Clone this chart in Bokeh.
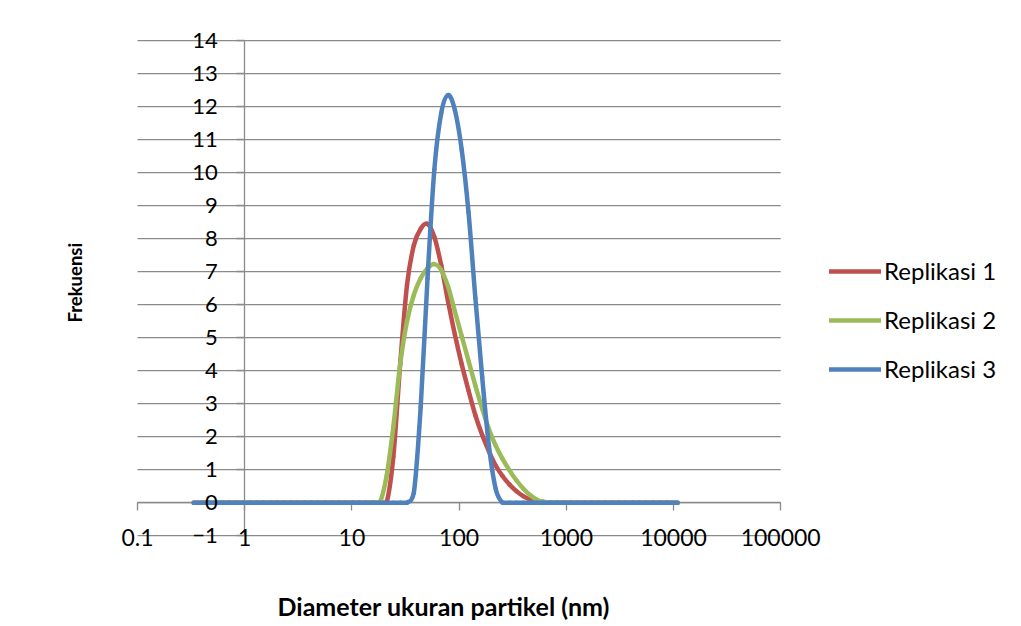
import math
from bokeh.plotting import figure
from bokeh.models import (Range1d, LogAxis, LinearAxis, FixedTicker, Grid,
                          Legend, LegendItem, Title)
from bokeh.embed import file_html
from bokeh.resources import INLINE

# ---------------- data ----------------
diameter_nm = [0.334, 0.4632, 0.5365, 0.6213, 0.7195, 0.8332, 0.9649, 1.117, 1.294, 1.499,
               1.736, 2.010, 2.328, 2.696, 3.122, 3.615, 4.187, 4.849, 5.615, 6.503,
               7.531, 8.721, 10.10, 11.70, 13.54, 15.69, 18.17, 21.04, 24.36, 28.21,
               32.67, 37.84, 43.82, 50.75, 58.77, 68.06, 78.82, 91.28, 105.7, 122.4,
               141.8, 164.2, 190.1, 220.2, 255.0, 295.3, 342.0, 396.1, 458.7, 531.2,
               615.1, 712.4, 825.0, 955.4, 1106, 1281, 1484, 1718, 1990, 2305,
               2669, 3091, 3580, 4145, 4801, 5560, 6439, 7456, 8635, 10940]

replikasi_1 = [0] * 28 + [1.4, 4.2, 6.6, 7.8, 8.3, 8.45, 8.05, 7.2, 6.1, 5.1,
                          4.2, 3.4, 2.65, 2.05, 1.55, 1.12, 0.8, 0.55, 0.35, 0.2,
                          0.1, 0.05, 0.02] + [0] * 19
replikasi_2 = [0] * 27 + [0.8, 2.3, 4.2, 5.5, 6.3, 6.8, 7.1, 7.23, 7.05, 6.55,
                          5.8, 5.05, 4.3, 3.55, 2.85, 2.22, 1.72, 1.32, 0.98, 0.68,
                          0.43, 0.23, 0.09, 0.02] + [0] * 19
replikasi_3 = [0] * 31 + [0.3, 2.9, 6.8, 10.1, 11.8, 12.35, 11.9, 10.7, 8.8, 6.2,
                          3.8, 1.7, 0.4] + [0] * 26

series_names = ["Replikasi 1", "Replikasi 2", "Replikasi 3"]
series_colors = ["#C0504D", "#9BBB59", "#4F81BD"]

x_ticks = [0.1, 1, 10, 100, 1000, 10000, 100000]
x_tick_labels = ["0.1", "1", "10", "100", "1000", "10000", "100000"]
y_ticks = list(range(-1, 15))

x_title = "Diameter ukuran partikel (nm)"
y_title = "Frekuensi"

# ---------------- figure ----------------
FONT = "Lato"
GRAY = "#8a8a8a"

p = figure(width=1013, height=622, x_axis_type="log",
           x_range=Range1d(10 ** -1.2519, 10 ** 7.1436), y_range=Range1d(-2.6, 14.4),
           x_axis_location=None, y_axis_location=None,
           output_backend="svg", toolbar_location=None,
           min_border_left=110, min_border_right=3,
           min_border_top=27, min_border_bottom=34)
p.outline_line_color = None
p.background_fill_color = "white"
p.border_fill_color = "white"
p.center = [c for c in p.center if not isinstance(c, Grid)]

# horizontal gridlines between the first and last x tick
p.segment(x0=[x_ticks[0]] * len(y_ticks), x1=[x_ticks[-1]] * len(y_ticks),
          y0=y_ticks, y1=y_ticks, line_color=GRAY, line_width=1.3)


def smooth_segments(xs, ys):
    """Catmull-Rom style smoothing (like Excel's smoothed line), in log-x space."""
    u = [math.log10(v) for v in xs]
    n = len(u)
    out = {k: [] for k in ("x0", "y0", "x1", "y1", "cx0", "cy0", "cx1", "cy1")}
    for i in range(n - 1):
        a = max(i - 1, 0)
        b = min(i + 2, n - 1)
        c0u = u[i] + (u[i + 1] - u[a]) / 6.0
        c0y = ys[i] + (ys[i + 1] - ys[a]) / 6.0
        c1u = u[i + 1] - (u[b] - u[i]) / 6.0
        c1y = ys[i + 1] - (ys[b] - ys[i]) / 6.0
        if ys[i] >= 0 and ys[i + 1] >= 0:
            c0y = max(c0y, 0.0)
            c1y = max(c1y, 0.0)
        out["x0"].append(xs[i]); out["y0"].append(ys[i])
        out["x1"].append(xs[i + 1]); out["y1"].append(ys[i + 1])
        out["cx0"].append(10 ** c0u); out["cy0"].append(c0y)
        out["cx1"].append(10 ** c1u); out["cy1"].append(c1y)
    return out


# axis line + ticks (drawn beneath the curves)
xax = LogAxis(fixed_location=0, bounds=(x_ticks[0], x_ticks[-1]),
              ticker=FixedTicker(ticks=x_ticks),
              axis_line_color=GRAY, axis_line_width=1.3,
              major_tick_line_color=GRAY, major_tick_line_width=1.3,
              major_tick_out=8, major_tick_in=0, minor_tick_out=0, minor_tick_in=0,
              major_label_text_color=None, major_label_text_font_size="1px")
xax.level = "underlay"
p.add_layout(xax, "below")

yax = LinearAxis(fixed_location=1, bounds=(y_ticks[0], y_ticks[-1]),
                 ticker=FixedTicker(ticks=y_ticks),
                 axis_line_color=GRAY, axis_line_width=1.3,
                 major_tick_line_color=GRAY, major_tick_line_width=1.3,
                 major_tick_out=8, major_tick_in=0, minor_tick_out=0, minor_tick_in=0,
                 major_label_text_color=None, major_label_text_font_size="1px")
yax.level = "underlay"
p.add_layout(yax, "left")

# curves
renderers = []
for vals, col in zip([replikasi_1, replikasi_2, replikasi_3], series_colors):
    seg = smooth_segments(diameter_nm, vals)
    r = p.bezier(source=seg, x0="x0", y0="y0", x1="x1", y1="y1",
                 cx0="cx0", cy0="cy0", cx1="cx1", cy1="cy1",
                 line_color=col, line_width=4.5, line_cap="round")
    renderers.append(r)

# tick labels
xlab = LogAxis(fixed_location=-1, bounds=(x_ticks[0], x_ticks[-1]),
               ticker=FixedTicker(ticks=x_ticks),
               major_label_overrides={t: l for t, l in zip(x_ticks, x_tick_labels)},
               axis_line_color=None, major_tick_out=0, major_tick_in=0,
               minor_tick_out=0, minor_tick_in=0, major_label_standoff=-7,
               major_label_text_font=FONT, major_label_text_font_size="23px",
               major_label_text_color="black")
p.add_layout(xlab, "below")

ylab = LinearAxis(fixed_location=1, bounds=(y_ticks[0], y_ticks[-1]),
                  ticker=FixedTicker(ticks=y_ticks),
                  axis_line_color=None, major_tick_out=0, major_tick_in=0,
                  minor_tick_out=0, minor_tick_in=0, major_label_standoff=27,
                  major_label_text_font=FONT, major_label_text_font_size="22px",
                  major_label_text_color="black")
p.add_layout(ylab, "left")

# axis titles
xt = Title(text=x_title, align="left", offset=167, text_font=FONT,
           text_font_size="25px", text_font_style="bold", text_color="black")
try:
    xt.standoff = 0
except AttributeError:
    pass
p.add_layout(xt, "below")

yt = Title(text=y_title, align="left", offset=266, text_font=FONT,
           text_font_size="18.5px", text_font_style="bold", text_color="black")
try:
    yt.standoff = 50
except AttributeError:
    pass
p.add_layout(yt, "left")

legend = Legend(items=[LegendItem(label=n, renderers=[r]) for n, r in zip(series_names, renderers)],
                location=(719, 205), padding=0, margin=0, spacing=20,
                glyph_width=52, glyph_height=24, label_height=24, label_standoff=3,
                label_text_font=FONT, label_text_font_size="24px", label_text_color="black",
                border_line_color=None, background_fill_alpha=0)
p.add_layout(legend)

open("out.html", "w").write(file_html(p, INLINE))
